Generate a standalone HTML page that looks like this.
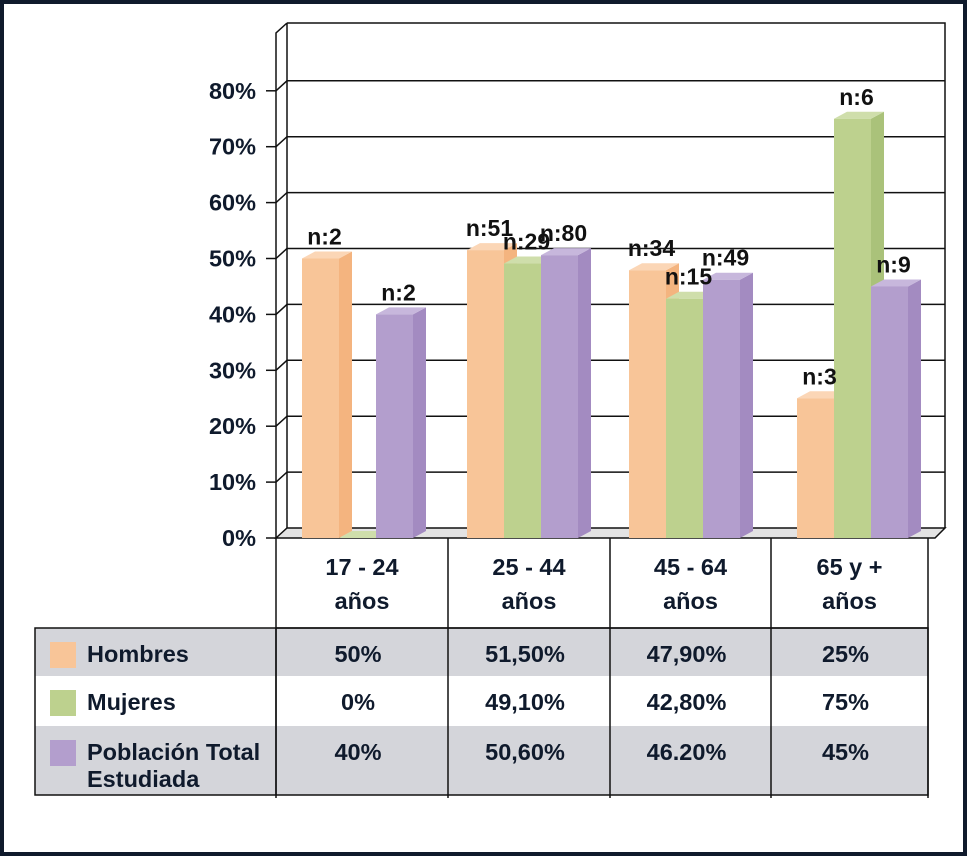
<!DOCTYPE html>
<html><head><meta charset="utf-8"><style>
html,body{margin:0;padding:0;background:#fff;}
svg{display:block;font-family:"Liberation Sans",sans-serif;font-weight:bold;}
</style></head><body>
<svg id="chart" width="970" height="858" viewBox="0 0 970 858">
<rect x="2" y="2" width="963" height="852" fill="#fff" stroke="#0f1a2c" stroke-width="4"/>
<g id="grid"></g>
<g id="bars"></g>
<g id="table"></g>
</svg>
<script>
const categories = [["17 - 24","años"],["25 - 44","años"],["45 - 64","años"],["65 y +","años"]];
const hombres = [50, 51.5, 47.9, 25];
const mujeres = [0, 49.1, 42.8, 75];
const poblacion = [40, 50.6, 46.2, 45];
const nLabels = [["n:2","","n:2"],["n:51","n:29","n:80"],["n:34","n:15","n:49"],["n:3","n:6","n:9"]];
const tableText = [["50%","51,50%","47,90%","25%"],["0%","49,10%","42,80%","75%"],["40%","50,60%","46.20%","45%"]];
const seriesNames = ["Hombres","Mujeres","Población Total|Estudiada"];
const yTicks = [0,10,20,30,40,50,60,70,80];

const NS="http://www.w3.org/2000/svg";
function mk(tag,attrs,parent,text){const e=document.createElementNS(NS,tag);for(const k in attrs)e.setAttribute(k,attrs[k]);if(text!==undefined)e.textContent=text;parent.appendChild(e);return e;}
const y0=538, pxPer=5.59, dx=11, dy=-10;
const yS=v=>y0-v*pxPer;
const colX=[276,448,610,771,928];
const grid=document.getElementById('grid'), bars=document.getElementById('bars'), table=document.getElementById('table');

let w=mk('path',{d:`M${276},${y0} L${276+dx},${y0+dy} L${945},${y0+dy} L${935},${y0} Z`,fill:'#e3e3e3',stroke:'#111','stroke-width':1.5},grid);

let bw=mk('path',{d:`M${276+dx},${y0+dy} L${276+dx},${23} M${276+dx},${23} L${945},${23} L${945},${y0+dy} M276,${y0} L276,${33} L${276+dx},23`,fill:'none',stroke:'#111','stroke-width':1.5},grid);

yTicks.forEach(t=>{
  const y=yS(t);
  if(t>0){const g=mk('path',{d:`M276,${y} L${276+dx},${y+dy} L945,${y+dy}`,fill:'none',stroke:'#111','stroke-width':1.5},grid);
  }
  mk('line',{x1:266,x2:276,y1:y,y2:y,stroke:'#111','stroke-width':1.5},grid);
  const l=mk('text',{x:256,y:y+8,'text-anchor':'end','font-size':23.5,fill:'#0f1a2c'},grid,t+'%');
  
});

const series=[hombres,mujeres,poblacion];
const cols=[["#f8c598","#f4b47f","#fbd6b6"],["#bdd18e","#aac27a","#cfdeab"],["#b39ecd","#a38bc1","#c7b7dc"]];
const barW=37, sd=13, sr=7;
categories.forEach((c,i)=>{
  const start=colX[i]+(i%3===0?26:19);
  series.forEach((s,j)=>{
    const v=s[i], x=start+j*barW, yt=yS(v);
    const g=mk('g',{},bars);
    
    
    mk('path',{d:`M${x+barW},${yt} L${x+barW+sd},${yt-sr} L${x+barW+sd},${y0-sr} L${x+barW},${y0} Z`,fill:cols[j][1]},g);
    mk('path',{d:`M${x},${yt} L${x+sd},${yt-sr} L${x+barW+sd},${yt-sr} L${x+barW},${yt} Z`,fill:cols[j][2]},g);
    mk('rect',{x:x,y:yt,width:barW,height:y0-yt,fill:cols[j][0]},g);
  });
  series.forEach((s,j)=>{
    if(!nLabels[i][j])return;
    const x=start+j*barW+barW/2+4, yt=yS(s[i]);
    const t=mk('text',{x:x,y:yt-14,'text-anchor':'middle','font-size':23,fill:'#111'},bars,nLabels[i][j]);
    
  });
});

const rows=[[628,676,'#d4d5da'],[676,726,'#fff'],[726,795,'#d4d5da']];
rows.forEach((r,k)=>{
  const rr=mk('rect',{x:35,y:r[0],width:893,height:r[1]-r[0],fill:r[2]},table);
  
  const sw=mk('rect',{x:50,y:r[0]+14,width:26,height:26,fill:cols[k][0]},table);
  
  const parts=seriesNames[k].split('|');
  parts.forEach((p,pi)=>{const t=mk('text',{x:87,y:r[0]+34+pi*27,'font-size':23.5,fill:'#0f1a2c'},table,p);
    });
  tableText[k].forEach((v,i)=>{
    const t=mk('text',{x:(colX[i]+colX[i+1])/2-4,y:r[0]+34,'text-anchor':'middle','font-size':23.5,fill:'#0f1a2c'},table,v);
    
  });
});
categories.forEach((c,i)=>{
  const cx=(colX[i]+colX[i+1])/2;
  c.forEach((p,pi)=>{const t=mk('text',{x:cx,y:575+pi*34,'text-anchor':'middle','font-size':23.5,fill:'#0f1a2c'},table,p);
    });
});
colX.forEach(x=>mk('line',{x1:x,x2:x,y1:538,y2:798,stroke:'#111','stroke-width':1.5},table));
mk('line',{x1:276,x2:928,y1:628,y2:628,stroke:'#111','stroke-width':1.5},table);
mk('rect',{x:35,y:628,width:893,height:167,fill:'none',stroke:'#111','stroke-width':1.5},table);
mk('line',{x1:276,x2:276,y1:628,y2:795,stroke:'#111','stroke-width':1.5},table);
</script>
</body></html>
